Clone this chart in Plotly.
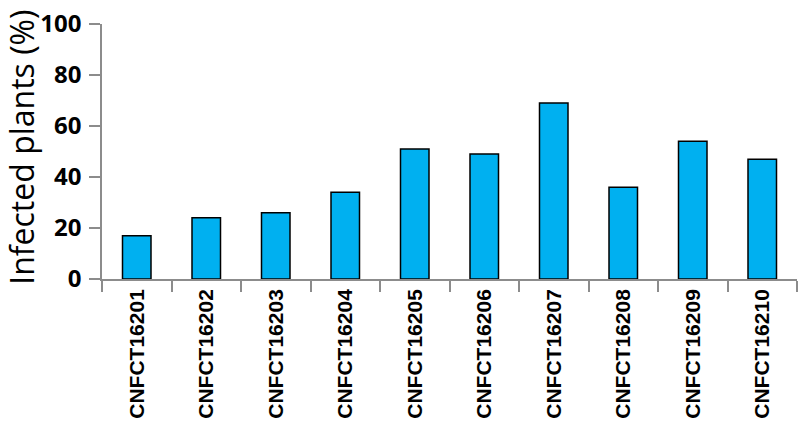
import plotly.graph_objects as go

categories = ["CNFCT16201", "CNFCT16202", "CNFCT16203", "CNFCT16204", "CNFCT16205",
              "CNFCT16206", "CNFCT16207", "CNFCT16208", "CNFCT16209", "CNFCT16210"]
infected = [17, 24, 26, 34, 51, 49, 69, 36, 54, 47]
y_ticks = [0, 20, 40, 60, 80, 100]
y_title = "Infected plants (%)"

fig = go.Figure(go.Bar(
    x=categories, y=infected,
    marker=dict(color="#00B0F0", line=dict(color="black", width=1.5)),
    hoverinfo="skip",
))

fig.update_layout(
    width=800, height=441,
    margin=dict(l=102, r=3, t=24, b=162),
    plot_bgcolor="white", paper_bgcolor="white",
    bargap=0.59, showlegend=False,
)
fig.update_xaxes(
    automargin=False,
    showline=True, linecolor="#8c8c8c", linewidth=1.5,
    ticks="outside", tickson="boundaries", ticklen=11, tickcolor="#8c8c8c", tickwidth=1.5,
    tickangle=-90,
    tickfont=dict(family="Liberation Sans", size=21, color="black", weight="bold"),
    showgrid=False,
)
fig.update_yaxes(
    automargin=False, ticklabeloverflow="allow", ticklabelstandoff=3,
    range=[0, 100], tickvals=y_ticks,
    showline=True, linecolor="#8c8c8c", linewidth=1.5,
    ticks="outside", ticklen=11, tickcolor="#8c8c8c", tickwidth=1.5,
    tickfont=dict(family="Open Sans", size=24, color="black", weight="bold"),
    showgrid=False, zeroline=False,
)
fig.add_annotation(
    text=y_title, textangle=-90, showarrow=False,
    xref="paper", yref="paper", x=-0.115, y=0.515,
    xanchor="center", yanchor="middle",
    font=dict(family="Open Sans", size=32, color="black"),
)

fig.write_html("out.html", config={"displayModeBar": False},
               post_script="document.body.style.margin='0';")
